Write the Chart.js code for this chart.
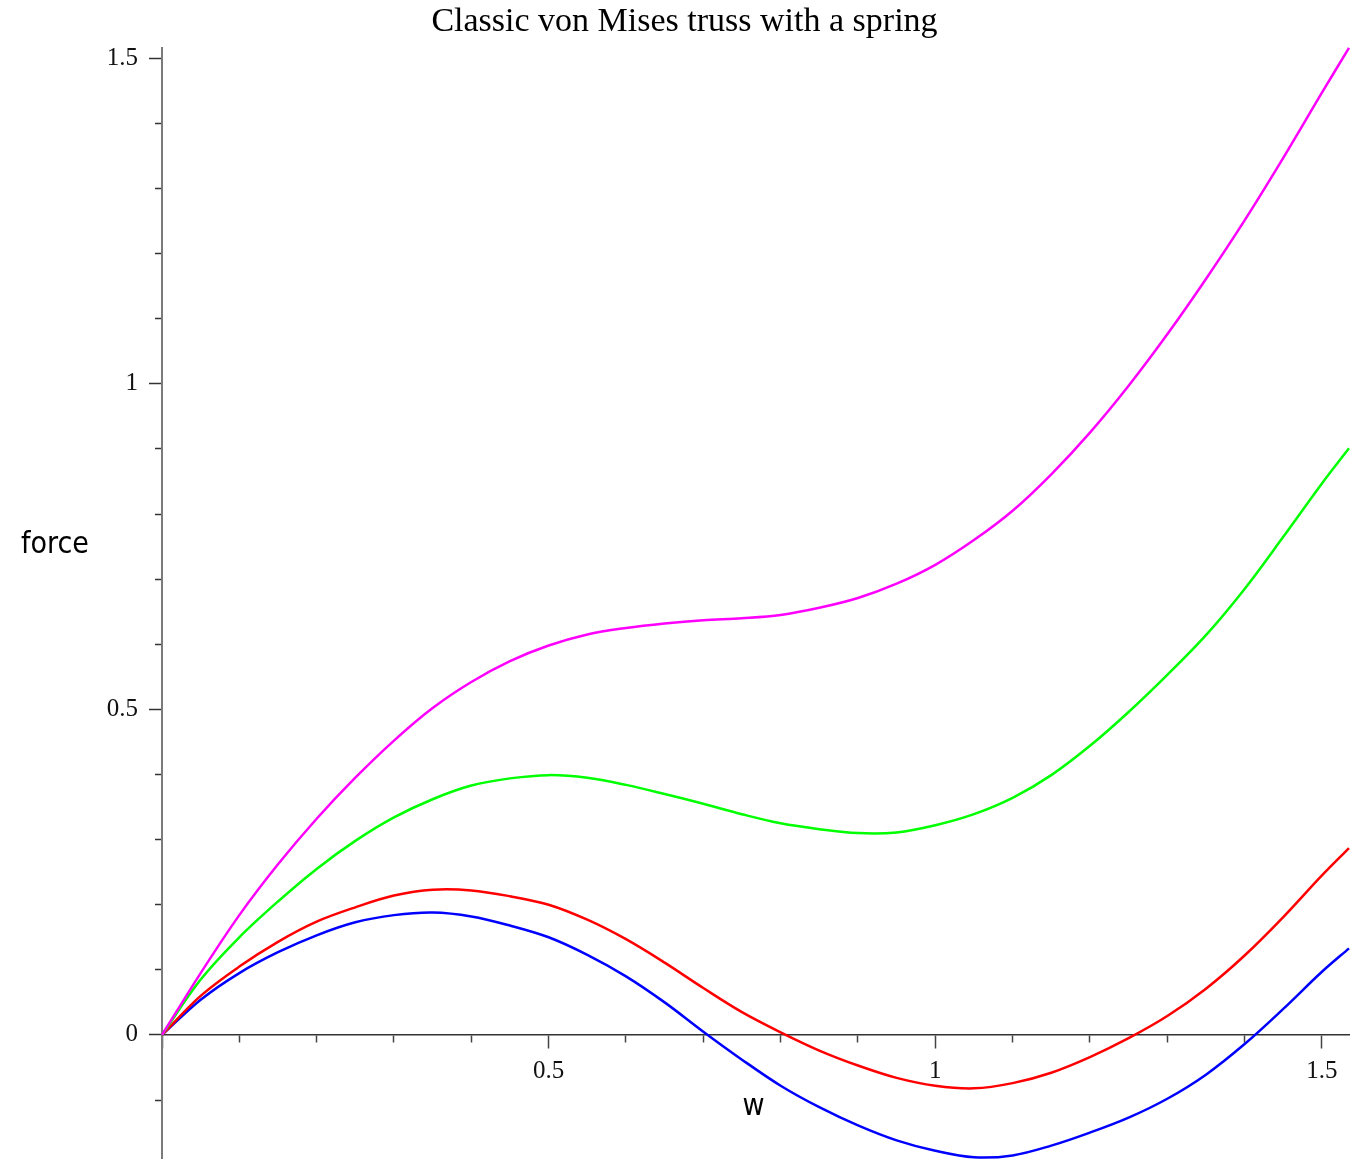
<!DOCTYPE html>
<html>
<head>
<meta charset="utf-8">
<script src="https://cdn.jsdelivr.net/npm/chart.js@4/dist/chart.umd.min.js"></script>
<style>
  html,body{margin:0;padding:0;background:#fff;overflow:hidden}
  #wrap{width:1372px;height:1160px;position:relative}
</style>
</head>
<body>
<div id="wrap"><canvas id="truss"></canvas></div>
<script>
/* displacement w (every 0.05) */
const w = [0,0.05,0.1,0.15,0.2,0.25,0.3,0.35,0.4,0.45,0.5,0.55,0.6,0.65,0.7,0.75,
           0.8,0.85,0.9,0.95,1,1.05,1.1,1.15,1.2,1.25,1.3,1.35,1.4,1.45,1.5,1.535];
/* force curves, one per spring stiffness */
const fMagenta = [0,0.095,0.184,0.262,0.332,0.395,0.452,0.502,0.542,0.574,0.598,0.615,0.625,0.632,0.637,0.640,
                  0.645,0.656,0.671,0.693,0.722,0.760,0.805,0.861,0.925,0.997,1.076,1.161,1.251,1.347,1.447,1.516];
const fGreen   = [0,0.085,0.150,0.205,0.255,0.298,0.334,0.362,0.383,0.394,0.399,0.395,0.384,0.370,0.355,0.339,
                  0.325,0.316,0.310,0.311,0.322,0.339,0.364,0.399,0.444,0.496,0.553,0.614,0.685,0.765,0.847,0.901];
const fRed     = [0,0.060,0.105,0.143,0.174,0.196,0.214,0.223,0.222,0.213,0.200,0.177,0.147,0.111,0.072,0.035,
                  0.004,-0.024,-0.047,-0.066,-0.078,-0.082,-0.074,-0.058,-0.034,-0.005,0.029,0.071,0.122,0.181,0.245,0.287];
const fBlue    = [0,0.054,0.095,0.127,0.153,0.173,0.184,0.188,0.182,0.168,0.150,0.123,0.090,0.050,0.005,-0.038,
                  -0.078,-0.111,-0.139,-0.162,-0.178,-0.188,-0.185,-0.170,-0.150,-0.127,-0.098,-0.061,-0.014,0.040,0.097,0.133];

const wMin = 0, wMax = 1.535, fMin = -0.189, fMax = 1.516;

const serif = '"Liberation Serif","Times New Roman",serif';
const sans  = '"DejaVu Sans Condensed","DejaVu Sans",sans-serif';
const isMajor = v => Math.abs(v * 2 - Math.round(v * 2)) < 1e-6;
const pts = f => w.map((x, i) => ({x: x, y: f[i]}));
const ds = (f, c) => ({data: pts(f), borderColor: c, borderWidth: 2.5, pointRadius: 0,
  fill: false, tension: 0.35, clip: 4});

/* horizontal axis names, Maple style */
const axisNames = {
  id: 'axisNames',
  afterDraw(chart) {
    const {ctx, scales: {x, y}} = chart;
    ctx.save();
    ctx.font = '30px ' + sans;
    ctx.fillStyle = '#000';
    ctx.textAlign = 'center';
    ctx.textBaseline = 'alphabetic';
    ctx.fillText('force', 55, y.getPixelForValue(0.74));
    ctx.fillText('w', (x.left + x.right) / 2 - 2, y.getPixelForValue(0) + 80);
    ctx.restore();
  }
};

new Chart(document.getElementById('truss'), {
  type: 'line',
  data: {datasets: [ds(fMagenta, '#ff00ff'), ds(fGreen, '#00ff00'), ds(fRed, '#ff0000'), ds(fBlue, '#0000ff')]},
  options: {
    responsive: true, maintainAspectRatio: false, animation: false,
    layout: {padding: {top: 0, right: 23, bottom: 2, left: 20}},
    plugins: {
      legend: {display: false}, tooltip: {enabled: false},
      title: {display: true, text: 'Classic von Mises truss with a spring', color: '#000',
        font: {family: serif, size: 34, weight: 'normal'}, padding: {top: 2, bottom: 5}}
    },
    scales: {
      x: {
        type: 'linear', min: wMin, max: wMax, position: {y: 0},
        afterFit: s => { s.height = 0; s.paddingLeft = 0; s.paddingRight = 0; s.paddingTop = 0; s.paddingBottom = 0; },
        border: {color: '#333', width: 1.5},
        grid: {drawOnChartArea: false, tickLength: 13, tickColor: '#444', tickWidth: 1.5,
          tickBorderDash: c => isMajor(c.tick.value) ? [] : [7, 40]},
        ticks: {stepSize: 0.1, includeBounds: false, autoSkip: false, maxRotation: 0, padding: 9,
          color: '#111', font: {family: serif, size: 25},
          callback: v => (isMajor(v) && v !== 0) ? String(+v.toFixed(1)) : ''}
      },
      y: {
        type: 'linear', min: fMin, max: fMax, position: 'left',
        afterFit: s => { s.width = 142; s.paddingTop = 0; s.paddingBottom = 0; },
        border: {color: '#7a7a7a', width: 2},
        grid: {drawOnChartArea: false, tickLength: 13, tickColor: '#333', tickWidth: 1.5,
          tickBorderDash: c => isMajor(c.tick.value) ? [] : [7, 6],
          tickBorderDashOffset: c => isMajor(c.tick.value) ? 0 : 7},
        ticks: {stepSize: 0.1, includeBounds: false, autoSkip: false, padding: 11,
          color: '#111', font: {family: serif, size: 25},
          callback: v => isMajor(v) ? String(+v.toFixed(1)) : ''}
      }
    }
  },
  plugins: [axisNames]
});
</script>
</body>
</html>
